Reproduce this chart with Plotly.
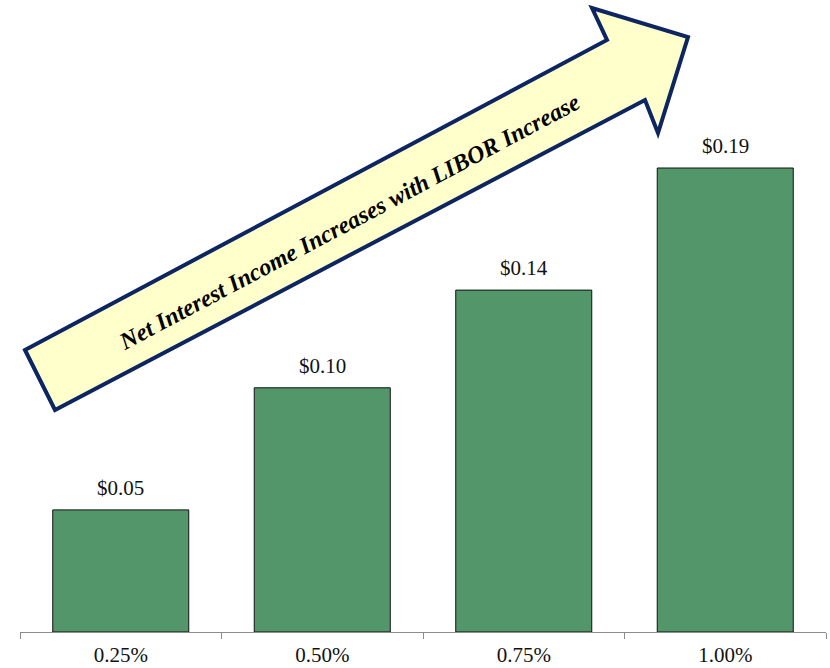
import plotly.graph_objects as go

# LIBOR increase scenarios and the resulting net interest income per share
libor_moves = ["0.25%", "0.50%", "0.75%", "1.00%"]
nii_per_share = [0.05, 0.10, 0.14, 0.19]
value_labels = ["$0.05", "$0.10", "$0.14", "$0.19"]
arrow_caption = "Net Interest Income Increases with LIBOR Increase"

W, H = 830, 668
ML, MR, MT, MB = 20, 4, 0, 36
PW, PH = W - ML - MR, H - MT - MB
SERIF = "Liberation Serif"


def to_paper(px, py):
    return (px - ML) / PW, (H - MB - py) / PH


fig = go.Figure()
fig.add_trace(go.Bar(
    x=libor_moves,
    y=nii_per_share,
    marker=dict(color="#52966a", line=dict(color="#111111", width=1)),
    width=0.675,
    hoverinfo="skip",
))

# value labels above each bar
for cat, val, lab in zip(libor_moves, nii_per_share, value_labels):
    fig.add_annotation(x=cat, y=val, text=lab, showarrow=False,
                       yanchor="middle", yshift=22,
                       font=dict(family=SERIF, size=21, color="#111111"))

# big upward arrow with caption
arrow_px = [(25, 350), (607, 40), (592, 8), (688, 37), (658, 133),
            (645, 100), (55, 410)]
pts = [to_paper(x, y) for x, y in arrow_px]
path = "M " + " L ".join(f"{x:.5f},{y:.5f}" for x, y in pts) + " Z"
fig.add_shape(type="path", path=path, xref="paper", yref="paper",
              fillcolor="#ffffcc", line=dict(color="#0d2560", width=4),
              layer="above")
cx, cy = to_paper(349, 222)
fig.add_annotation(x=cx, y=cy, xref="paper", yref="paper", showarrow=False,
                   text=f"<b><i>{arrow_caption}</i></b>", textangle=-28,
                   font=dict(family=SERIF, size=24, color="#000000"))

fig.update_layout(
    width=W, height=H,
    margin=dict(l=ML, r=MR, t=MT, b=MB),
    paper_bgcolor="white", plot_bgcolor="white",
    showlegend=False,
    xaxis=dict(type="category", range=[-0.5, 3.5], showline=True,
               linecolor="#8c8c8c", linewidth=1, ticks="outside",
               tickson="boundaries", ticklen=6, tickcolor="#8c8c8c",
               ticklabelstandoff=4,
               tickfont=dict(family=SERIF, size=21, color="#111111"),
               showgrid=False, zeroline=False),
    yaxis=dict(range=[0, 0.19 * PH / 464], visible=False,
               showgrid=False, zeroline=False),
)

fig.write_html("out.html")
